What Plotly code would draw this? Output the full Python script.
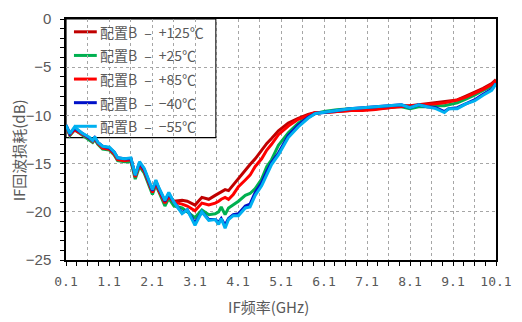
import plotly.graph_objects as go

# IF frequency sweep points (GHz)
freq_ghz = [0.1, 0.19, 0.3, 0.46, 0.65, 0.72, 0.77, 0.84, 0.95, 1.11, 1.22, 1.3, 1.46, 1.61,
            1.71, 1.81, 1.92, 2.11, 2.19, 2.26, 2.4, 2.49, 2.61, 2.8, 2.92, 3.1, 3.26, 3.42,
            3.57, 3.65, 3.71, 3.8, 3.88, 3.99, 4.11, 4.27, 4.38, 4.5, 4.65, 4.77, 4.88, 5.04,
            5.27, 5.5, 5.73, 5.9, 6.1, 6.4, 6.7, 7.0, 7.3, 7.6, 7.9, 8.1, 8.3, 8.5, 8.7, 8.9,
            9.0, 9.2, 9.4, 9.6, 9.8, 10.0, 10.1]

# IF return loss (dB) per temperature
rl_p125 = [-11.1, -12.0, -11.4, -11.9, -12.4, -12.7, -12.3, -12.9, -13.3, -13.4, -13.9, -14.5,
           -14.6, -14.5, -16.3, -15.0, -15.7, -17.9, -16.9, -17.7, -18.9, -18.3,
           -18.9, -18.8, -18.9, -19.3, -18.5, -18.7, -18.3, -18.1, -17.9, -17.7, -17.8, -17.2,
           -16.5, -15.7, -15.1, -14.5, -13.6, -12.9, -12.4, -11.6, -10.8, -10.3, -9.9, -9.7,
           -9.7, -9.6, -9.5, -9.4, -9.3, -9.2, -9.0, -9.0, -8.9, -8.8, -8.7, -8.6, -8.5, -8.4,
           -8.0, -7.6, -7.2, -6.7, -6.3]
rl_p25 = [-11.1, -12.1, -11.5, -12.0, -12.5, -12.8, -12.5, -13.0, -13.5, -13.6, -14.1, -14.7,
          -14.8, -14.8, -16.6, -15.3, -16.0, -18.2, -17.2, -18.0, -19.4, -18.6,
          -19.4, -19.6, -20.0, -20.6, -19.8, -20.3, -20.2, -20.0, -19.5, -20.3, -19.6, -19.3,
          -18.9, -18.3, -18.1, -17.6, -16.6, -15.3, -14.6, -13.1, -11.8, -10.8, -10.1, -9.8,
          -9.6, -9.4, -9.3, -9.3, -9.2, -9.1, -9.1, -9.3, -9.1, -9.1, -9.0, -9.0, -8.9, -8.7,
          -8.3, -7.9, -7.4, -7.0, -6.6]
rl_p85 = [-11.1, -12.0, -11.5, -11.9, -12.4, -12.7, -12.4, -12.9, -13.4, -13.5, -14.0, -14.6,
          -14.7, -14.6, -16.4, -15.1, -15.8, -18.0, -17.0, -17.8, -19.1, -18.4,
          -19.0, -19.2, -19.4, -19.9, -19.1, -19.3, -19.1, -18.9, -18.7, -18.5, -18.7, -18.2,
          -17.4, -16.7, -16.2, -15.3, -14.5, -13.6, -13.0, -12.0, -11.1, -10.4, -10.0, -9.7,
          -9.7, -9.6, -9.5, -9.5, -9.4, -9.2, -9.1, -9.0, -9.0, -8.9, -8.8, -8.7, -8.6, -8.4,
          -8.1, -7.7, -7.3, -6.8, -6.4]
rl_m40 = [-11.0, -11.9, -11.3, -11.8, -12.3, -12.6, -12.3, -12.8, -13.2, -13.4, -13.8, -14.4,
          -14.5, -14.5, -16.2, -14.9, -15.6, -17.8, -16.8, -17.6, -18.9, -18.1,
          -19.0, -20.1, -19.8, -21.2, -20.0, -20.8, -20.8, -21.1, -20.7, -21.4, -20.7, -20.3,
          -20.2, -19.4, -19.2, -18.0, -17.0, -15.8, -14.9, -13.9, -12.1, -11.0, -10.2, -9.8,
          -9.7, -9.5, -9.3, -9.2, -9.1, -9.0, -8.9, -9.2, -8.9, -9.1, -9.2, -9.6, -9.3, -9.2,
          -8.8, -8.4, -7.8, -7.3, -6.7]
rl_m55 = [-11.0, -11.9, -11.2, -11.8, -12.3, -12.6, -12.2, -12.8, -13.2, -13.3, -13.8, -14.4,
          -14.5, -14.4, -16.2, -14.8, -15.5, -17.7, -16.7, -17.5, -18.8, -18.0,
          -19.0, -20.2, -19.8, -21.4, -20.0, -20.9, -20.8, -21.3, -20.7, -21.7, -20.8, -20.4,
          -20.4, -19.6, -19.5, -18.3, -17.3, -16.1, -15.1, -14.1, -12.3, -11.2, -10.3, -9.8,
          -9.7, -9.5, -9.3, -9.2, -9.1, -9.0, -8.9, -9.2, -8.9, -9.1, -9.3, -9.7, -9.3, -9.3,
          -8.8, -8.5, -7.9, -7.4, -6.7]

SP = "\u2002"
series_names = ["配置B" + SP + "–" + SP + "+125℃", "配置B" + SP + "–" + SP + "+25℃",
                "配置B" + SP + "–" + SP + "+85℃", "配置B" + SP + "–" + SP + "−40℃",
                "配置B" + SP + "–" + SP + "−55℃"]
series_values = [rl_p125, rl_p25, rl_p85, rl_m40, rl_m55]
series_colors = ["#C00000", "#00B050", "#FF0000", "#0010C8", "#00B0F0"]

# x tick positions every 0.5 GHz, labelled every 1 GHz
x_tick_vals = [0.1 + 0.5 * i for i in range(21)]
x_tick_text = ["%.1f" % v if i % 2 == 0 else "" for i, v in enumerate(x_tick_vals)]
y_tick_vals = [0, -5, -10, -15, -20, -25]
y_tick_text = ["0", "−5", "−10", "−15", "−20", "−25"]

GRAY = "#595959"
CJK = "Noto Sans CJK SC"

fig = go.Figure()
for name, vals, col in zip(series_names, series_values, series_colors):
    fig.add_trace(go.Scatter(
        x=freq_ghz, y=vals, mode="lines", name=name, showlegend=False,
        line=dict(color=col, width=3),
    ))

# Key box sits between the grid and the curves, so the curves pass over it
fig.add_shape(type="rect", xref="paper", yref="paper", x0=0, x1=0.3487, y0=0.508, y1=1.0,
              fillcolor="white", line=dict(color="black", width=1.2), layer="between")
entry_top, entry_step = 0.9468, 0.098
for i, (name, col) in enumerate(zip(series_names, series_colors)):
    yy = entry_top - i * entry_step
    fig.add_shape(type="line", xref="paper", yref="paper", x0=0.0185, x1=0.0716, y0=yy, y1=yy,
                  line=dict(color=col, width=3), layer="between")
    fig.add_annotation(text=name, xref="paper", yref="paper", x=0.074, y=yy,
                       xanchor="left", yanchor="middle", showarrow=False,
                       font=dict(family=CJK, size=14, color=GRAY))

grid = dict(showgrid=True, gridcolor="#A6A6A6", gridwidth=1, griddash="3px,3px",
            showline=True, linecolor="black", linewidth=1.5, mirror=True,
            ticks="outside", ticklen=4, tickcolor="black", zeroline=False)

fig.update_xaxes(
    range=[0.1, 10.1], tickmode="array", tickvals=x_tick_vals, ticktext=x_tick_text,
    tickfont=dict(family="DejaVu Sans Mono", size=13, color=GRAY),
    minor=dict(dtick=0.25, tick0=0.1, ticks="outside", ticklen=4, tickcolor="black", showgrid=False),
    ticklabelstandoff=5,
    **grid,
)
fig.update_yaxes(
    range=[-25, 0], tickmode="array", tickvals=y_tick_vals, ticktext=y_tick_text,
    tickfont=dict(family="Liberation Sans", size=15, color=GRAY),
    minor=dict(dtick=1, tick0=0, ticks="outside", ticklen=4, tickcolor="black", showgrid=False),
    ticklabelstandoff=6,
    **grid,
)

fig.add_annotation(text="IF频率(GHz)", xref="paper", yref="paper", x=0.471, y=-0.194,
                   showarrow=False, font=dict(family=CJK, size=15, color=GRAY),
                   xanchor="center", yanchor="middle")
fig.add_annotation(text="IF回波损耗(dB)", xref="paper", yref="paper", x=-0.111, y=0.456,
                   showarrow=False, textangle=-90, font=dict(family=CJK, size=15, color=GRAY),
                   xanchor="center", yanchor="middle")

fig.update_layout(
    width=522, height=322,
    margin=dict(l=66, r=23, t=10, b=62),
    plot_bgcolor="white", paper_bgcolor="white",
    showlegend=False,
)

fig.write_html("out.html")
